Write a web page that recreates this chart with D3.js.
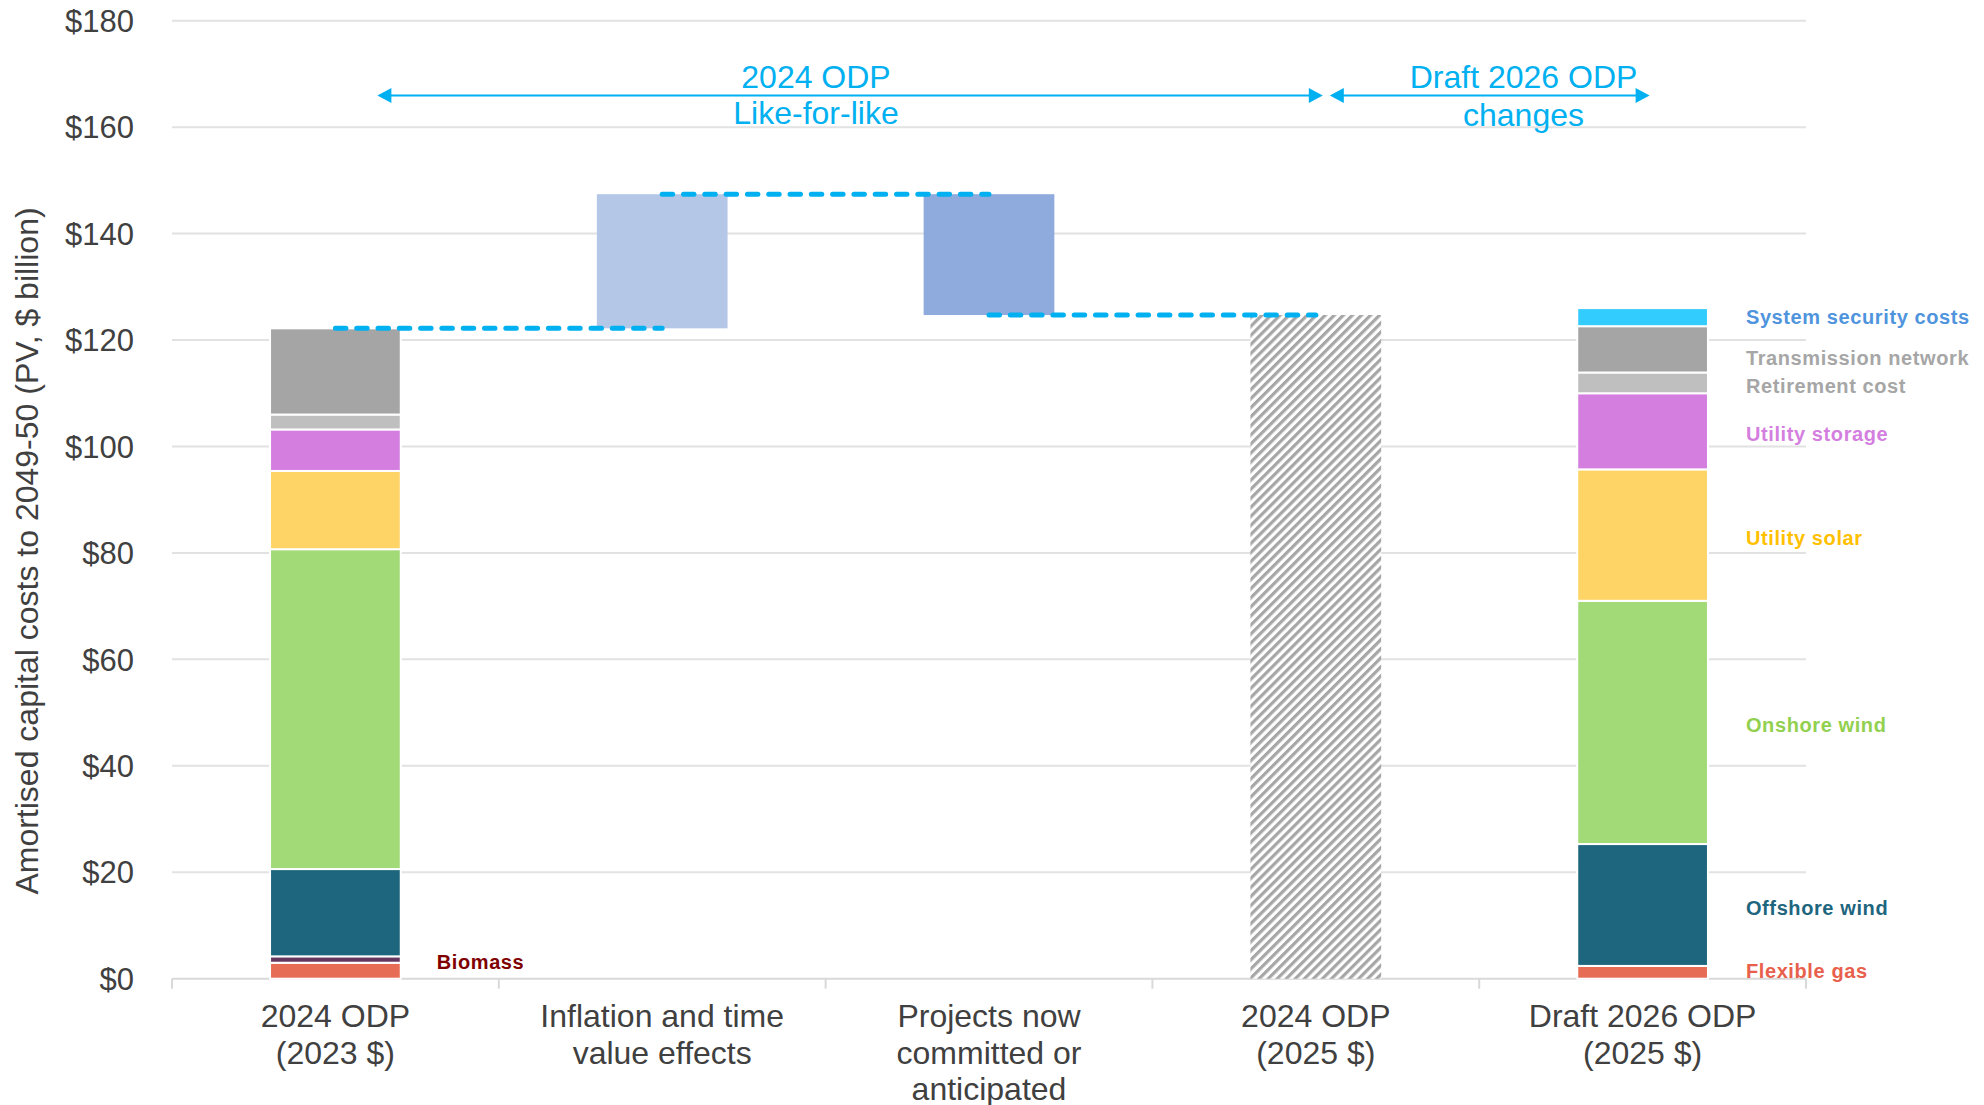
<!DOCTYPE html>
<html lang="en">
<head>
<meta charset="UTF-8">
<title>Amortised capital costs</title>
<script src="https://d3js.org/d3.v7.min.js"></script>
<style>
    body { margin: 0; background: #fff; }
    svg text { font-family: Arial, "Liberation Sans", sans-serif; }
</style>
</head>
<body>
<svg id="chart" width="1984" height="1105"></svg>
<script>
// categories along the x axis (lines split with \n)
const categories = [
    "2024 ODP\n(2023 $)",
    "Inflation and time\nvalue effects",
    "Projects now\ncommitted or\nanticipated",
    "2024 ODP\n(2025 $)",
    "Draft 2026 ODP\n(2025 $)"
];

// stack order, bottom to top
const techs = ["Flexible gas", "Biomass", "Offshore wind", "Onshore wind", "Utility solar",
    "Utility storage", "Retirement cost", "Transmission network", "System security costs"];
const techColors = ["#e66c55", "#66365f", "#1e667e", "#a3da78", "#ffd466",
    "#d47fe0", "#bfbfbf", "#a5a5a5", "#33ccff"];
const labelColors = ["#e8604c", "#800000", "#1e667e", "#92d050", "#ffc000",
    "#d47fe0", "#a6a6a6", "#a6a6a6", "#4f94dd"];

// $ billion
const odp2024 = [3.0, 1.2, 16.4, 60.1, 14.7, 7.8, 2.8, 16.2, 0];
const draft2026 = [2.4, 0, 22.9, 45.7, 24.7, 14.3, 3.9, 8.7, 3.4];
const inflationEffect = 25.2;
const projectsEffect = -22.7;

const yTicks = [0, 20, 40, 60, 80, 100, 120, 140, 160, 180];

const svg = d3.select("#chart");
const textGrey = "#404040";
const blue = "#00b0f0";

const x = d3.scaleBand().domain(categories).range([172, 1806]).padding(0);
const y = d3.scaleLinear().domain([0, 180]).range([978.7, 20.7]);
const barW = x.bandwidth() * 0.4;
const cx = c => x(c) + x.bandwidth() / 2;

// hatch pattern for the like-for-like 2025 $ bar
const defs = svg.append("defs");
const pat = defs.append("pattern")
    .attr("id", "hatch")
    .attr("patternUnits", "userSpaceOnUse")
    .attr("width", 6.4).attr("height", 6.4)
    .attr("patternTransform", "rotate(45)");
pat.append("rect").attr("width", 6.4).attr("height", 6.4).attr("fill", "#fff");
pat.append("line")
    .attr("x1", 1.6).attr("y1", 0).attr("x2", 1.6).attr("y2", 6.4)
    .attr("stroke", "#a6a6a6").attr("stroke-width", 3.2);

// grid lines
svg.append("g").selectAll("line")
    .data(yTicks.filter(d => d > 0))
    .join("line")
    .attr("x1", 172).attr("x2", 1806)
    .attr("y1", d => y(d)).attr("y2", d => y(d))
    .attr("stroke", "#e2e2e2").attr("stroke-width", 2);

// y tick labels
svg.append("g").selectAll("text")
    .data(yTicks)
    .join("text")
    .attr("x", 134)
    .attr("y", d => y(d))
    .attr("dy", "0.36em")
    .attr("text-anchor", "end")
    .attr("font-size", 31)
    .attr("fill", textGrey)
    .text(d => "$" + d);

// y axis title
svg.append("text")
    .attr("transform", "translate(38,551) rotate(-90)")
    .attr("text-anchor", "middle")
    .attr("font-size", 32)
    .attr("fill", textGrey)
    .text("Amortised capital costs to 2049-50 (PV, $ billion)");

// x axis baseline + ticks
const xAxis = svg.append("g");
xAxis.append("line")
    .attr("x1", 172).attr("x2", 1806)
    .attr("y1", y(0)).attr("y2", y(0))
    .attr("stroke", "#d9d9d9").attr("stroke-width", 2);
xAxis.selectAll("line.tick")
    .data(categories.map(c => x(c)).concat([x.range()[1]]))
    .join("line")
    .attr("class", "tick")
    .attr("x1", d => d).attr("x2", d => d)
    .attr("y1", y(0)).attr("y2", y(0) + 10)
    .attr("stroke", "#d9d9d9").attr("stroke-width", 2);

// x labels
svg.append("g").selectAll("text")
    .data(categories)
    .join("text")
    .attr("text-anchor", "middle")
    .attr("font-size", 32)
    .attr("fill", textGrey)
    .each(function (c) {
        const lines = c.split("\n");
        d3.select(this).selectAll("tspan")
            .data(lines)
            .join("tspan")
            .attr("x", cx(c))
            .attr("y", (d, i) => 1027 + i * 36.7)
            .text(d => d);
    });

// stacked bars
function stackRows(values) {
    let acc = 0;
    return values.map((v, i) => {
        const r = { tech: techs[i], i: i, y0: acc, y1: acc + v, v: v };
        acc += v;
        return r;
    }).filter(r => r.v > 0);
}

function drawStack(cat, values) {
    svg.append("g").selectAll("rect")
        .data(stackRows(values))
        .join("rect")
        .attr("x", cx(cat) - barW / 2)
        .attr("width", barW)
        .attr("y", d => y(d.y1))
        .attr("height", d => y(d.y0) - y(d.y1))
        .attr("fill", d => techColors[d.i])
        .attr("stroke", "#fff")
        .attr("stroke-width", 2);
}

const total2024 = d3.sum(odp2024);
const afterInflation = total2024 + inflationEffect;
const total2025 = afterInflation + projectsEffect;

drawStack(categories[0], odp2024);
drawStack(categories[4], draft2026);

// waterfall steps
const steps = [
    { cat: categories[1], lo: total2024, hi: afterInflation, fill: "#b4c7e7" },
    { cat: categories[2], lo: total2025, hi: afterInflation, fill: "#8faadc" },
    { cat: categories[3], lo: 0, hi: total2025, fill: "url(#hatch)" }
];
svg.append("g").selectAll("rect")
    .data(steps)
    .join("rect")
    .attr("x", d => cx(d.cat) - barW / 2)
    .attr("width", barW)
    .attr("y", d => y(d.hi))
    .attr("height", d => y(d.lo) - y(d.hi))
    .attr("fill", d => d.fill);

// dashed connectors, centre to centre
const connectors = [
    { a: categories[0], b: categories[1], v: total2024 },
    { a: categories[1], b: categories[2], v: afterInflation },
    { a: categories[2], b: categories[3], v: total2025 }
];
svg.append("g").selectAll("line")
    .data(connectors)
    .join("line")
    .attr("x1", d => cx(d.a)).attr("x2", d => cx(d.b))
    .attr("y1", d => y(d.v)).attr("y2", d => y(d.v))
    .attr("stroke", blue)
    .attr("stroke-width", 5)
    .attr("stroke-linecap", "round")
    .attr("stroke-dasharray", "10.5 10.8");

// segment labels
const lbl = svg.append("g").attr("font-size", 20).attr("font-weight", "bold")
    .attr("letter-spacing", 0.6);
stackRows(draft2026).forEach(d => {
    lbl.append("text")
        .attr("x", cx(categories[4]) + barW / 2 + 38)
        .attr("y", y((d.y0 + d.y1) / 2) + 3 - (d.tech === "Flexible gas" ? 4 : 0)
            + (d.tech === "Transmission network" ? 6 : 0)
            - (d.tech === "System security costs" ? 3 : 0))
        .attr("dy", "0.35em")
        .attr("fill", labelColors[d.i])
        .text(d.tech);
});
const bio = stackRows(odp2024).find(d => d.tech === "Biomass");
lbl.append("text")
    .attr("x", cx(categories[0]) + barW / 2 + 36)
    .attr("y", y((bio.y0 + bio.y1) / 2) + 2)
    .attr("dy", "0.35em")
    .attr("fill", labelColors[1])
    .text("Biomass");

// period annotations with double-headed arrows
function arrow(x1, x2, yy) {
    const g = svg.append("g");
    const h = 14, hw = 7.5;
    g.append("line")
        .attr("x1", x1 + h - 1).attr("x2", x2 - h + 1)
        .attr("y1", yy).attr("y2", yy)
        .attr("stroke", blue).attr("stroke-width", 2);
    g.append("path")
        .attr("d", `M${x1},${yy}L${x1 + h},${yy - hw}L${x1 + h},${yy + hw}Z`)
        .attr("fill", blue);
    g.append("path")
        .attr("d", `M${x2},${yy}L${x2 - h},${yy - hw}L${x2 - h},${yy + hw}Z`)
        .attr("fill", blue);
}
const arrowY = 95.5;
arrow(cx(categories[0]) + 42, cx(categories[3]) + 7, arrowY);
arrow(cx(categories[3]) + 14, cx(categories[4]) + 7, arrowY);

const notes = [
    { x: 816, lines: ["2024 ODP", "Like-for-like"], ys: [76, 112.5] },
    { x: 1523.5, lines: ["Draft 2026 ODP", "changes"], ys: [76, 114] }
];
notes.forEach(n => {
    n.lines.forEach((t, i) => {
        svg.append("text")
            .attr("x", n.x)
            .attr("y", n.ys[i])
            .attr("dy", "0.36em")
            .attr("text-anchor", "middle")
            .attr("font-size", 32)
            .attr("fill", blue)
            .text(t);
    });
});
</script>
</body>
</html>
